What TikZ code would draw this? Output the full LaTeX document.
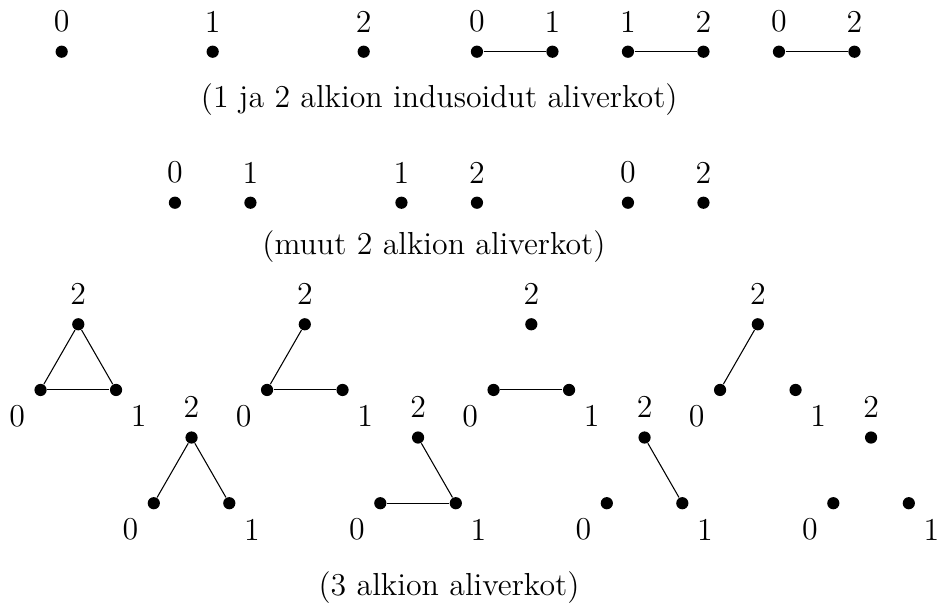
\documentclass[12pt,tikz,border=0pt]{standalone}
\usepackage{tikz}
\tikzset{
  kp/.style={circle,fill=black,inner sep=0pt,minimum size=4.6pt},
  ylos/.style={label={[shift={(0,0.4)}]center:#1}},
  vasen/.style={label={[shift={(-0.31,-0.35)}]center:#1}},
  oikea/.style={label={[shift={(0.30,-0.35)}]center:#1}}
}

\begin{document}
\begin{tikzpicture}
\useasboundingbox (-0.817,-7.29) rectangle (11.62,0.685);
% 1 alkion verkot
\foreach \x/\l in {0/0,2/1,4/2}{\node[kp,ylos=\l] (s\l) at (\x,0) {};}
% 2 alkion indusoidut
\foreach \x/\a/\b/\n in {5.5/0/1/a,7.5/1/2/b,9.5/0/2/c}{
  \node[kp,ylos=\a] (p\n1) at (\x,0) {};
  \node[kp,ylos=\b] (p\n2) at (\x+1,0) {};
  \draw (p\n1)--(p\n2);
}
\node (cap1) at (5,-0.64) {(1 ja 2 alkion indusoidut aliverkot)};
% muut 2 alkion
\foreach \x/\a/\b/\n in {1.5/0/1/a,4.5/1/2/b,7.5/0/2/c}{
  \node[kp,ylos=\a] (m\n1) at (\x,-2) {};
  \node[kp,ylos=\b] (m\n2) at (\x+1,-2) {};
}
\node (cap2) at (4.93,-2.58) {(muut 2 alkion aliverkot)};
% 3 alkion
\foreach \x/\y/\n in {-0.28/-4.48/a,2.72/-4.48/b,5.72/-4.48/c,8.72/-4.48/d,1.22/-5.98/e,4.22/-5.98/f,7.22/-5.98/g,10.22/-5.98/h}{
  \node[kp,vasen=0] (\n0) at (\x,\y) {};
  \node[kp,oikea=1] (\n1) at (\x+1,\y) {};
  \node[kp,ylos=2] (\n2) at (\x+0.5,\y+0.87) {};
}
\foreach \u/\v in {a0/a1,a1/a2,a2/a0,b2/b0,b0/b1,c0/c1,d2/d0,e2/e0,e2/e1,f0/f1,f2/f1,g2/g1}{\draw (\u)--(\v);}
\node (cap3) at (5.13,-7.1) {(3 alkion aliverkot)};
\end{tikzpicture}
\end{document}
